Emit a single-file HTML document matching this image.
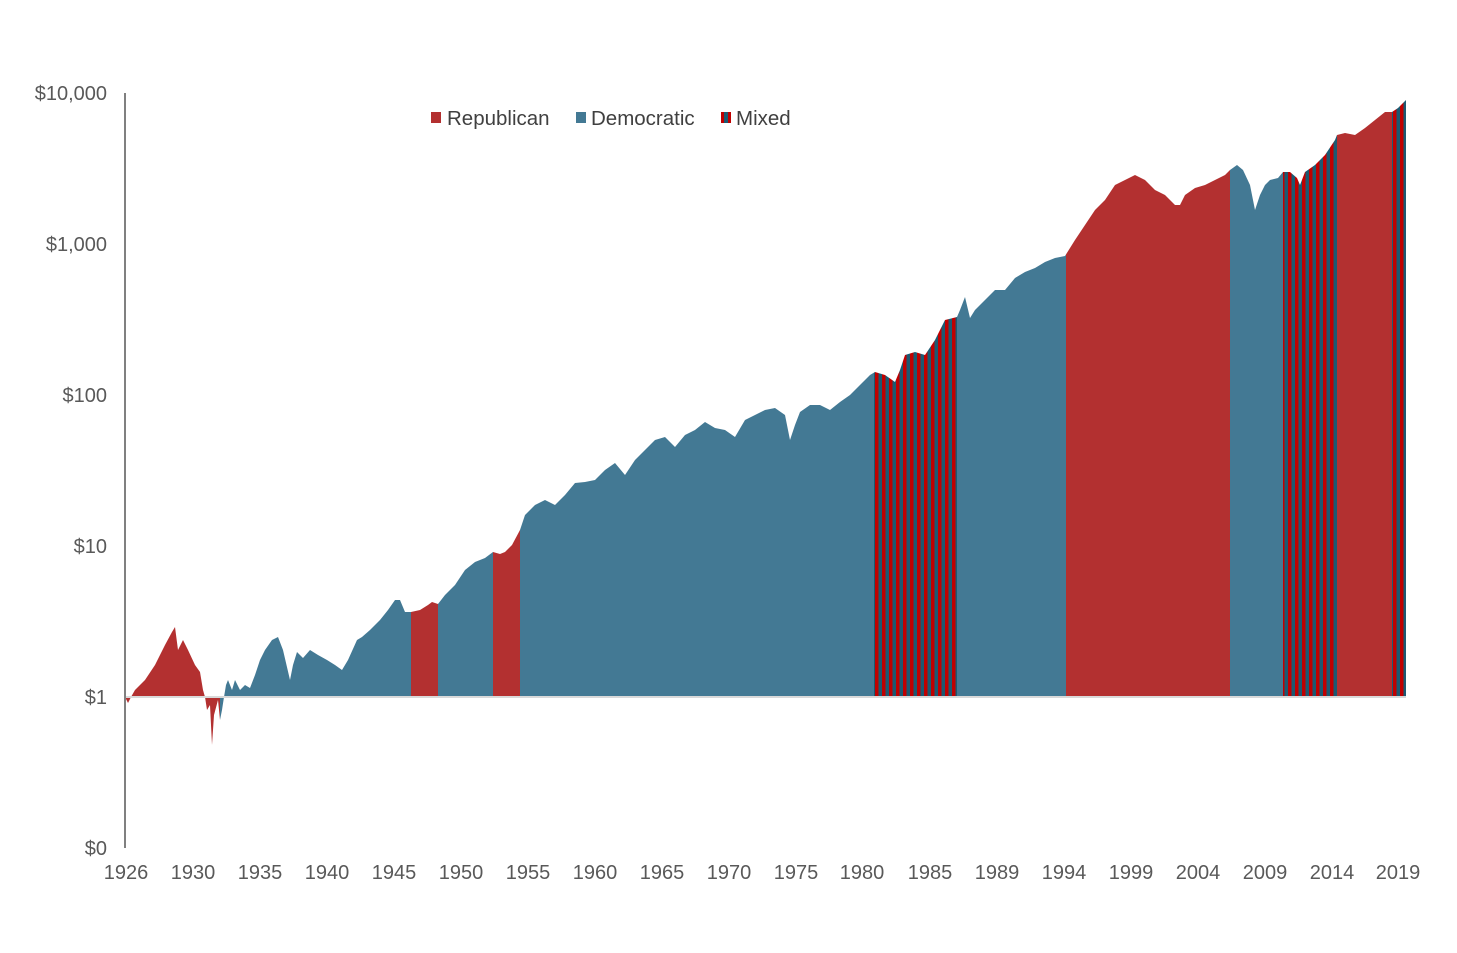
<!DOCTYPE html>
<html><head><meta charset="utf-8"><style>
html,body{margin:0;padding:0;background:#fff;}
svg text{font-family:"Liberation Sans",Arial,sans-serif;fill:#595959;}
</style></head><body>
<svg width="1457" height="948" viewBox="0 0 1457 948" xmlns="http://www.w3.org/2000/svg">
<defs>
<pattern id="mix" x="0" y="0" width="7" height="10" patternUnits="userSpaceOnUse">
<rect x="0" y="0" width="3.5" height="10" fill="#c00000"/>
<rect x="3.5" y="0" width="3.5" height="10" fill="#1b5a72"/>
</pattern>
<clipPath id="area">
<polygon points="125,697 128,703 131,697 135,690 145,680 155,665 165,645 172,632 175,627 178,650 183,640 188,650 195,665 200,672 203,690 205,697 207,710 210,705 212,745 214,715 218,700 220,720 222,710 224,697 226,685 228,680 232,690 235,680 240,690 245,685 250,688 255,675 260,660 265,650 272,640 278,637 283,650 290,680 293,665 297,652 303,658 310,650 318,655 327,660 335,665 342,670 348,660 357,640 362,637 370,630 380,620 388,610 395,600 400,600 405,612 411,612 420,610 428,605 432,602 438,604 445,595 455,585 465,570 475,562 485,558 493,552 500,554 505,552 512,545 520,530 525,515 535,505 545,500 555,505 565,495 575,483 585,482 595,480 605,470 615,463 625,475 635,460 645,450 655,440 665,437 675,447 685,435 695,430 705,422 715,428 725,430 735,437 745,420 755,415 765,410 775,408 785,415 790,440 795,425 800,412 810,405 820,405 830,410 840,402 850,395 860,385 870,375 875,372 885,375 895,382 900,370 905,355 915,352 925,355 935,340 945,320 957,317 960,310 965,297 970,318 975,310 985,300 995,290 1005,290 1015,278 1025,272 1035,268 1045,262 1055,258 1065,256 1075,240 1085,225 1095,210 1105,200 1115,185 1125,180 1135,175 1145,180 1155,190 1165,195 1175,205 1180,205 1185,195 1195,188 1205,185 1215,180 1225,175 1230,170 1237,165 1243,170 1250,185 1255,210 1260,195 1265,185 1270,180 1278,178 1283,172 1290,172 1297,178 1300,185 1305,172 1315,165 1325,155 1335,140 1337,135 1345,133 1355,135 1365,128 1375,120 1385,112 1392,112 1398,108 1406,100 1406,697"/>
</clipPath>
</defs>
<g clip-path="url(#area)">
<rect x="120" y="90" width="100" height="700" fill="#b33030"/>
<rect x="220" y="90" width="191" height="700" fill="#437994"/>
<rect x="411" y="90" width="27" height="700" fill="#b33030"/>
<rect x="438" y="90" width="55" height="700" fill="#437994"/>
<rect x="493" y="90" width="27" height="700" fill="#b33030"/>
<rect x="520" y="90" width="354" height="700" fill="#437994"/>
<rect x="874" y="90" width="83" height="700" fill="url(#mix)"/>
<rect x="957" y="90" width="109" height="700" fill="#437994"/>
<rect x="1066" y="90" width="164" height="700" fill="#b33030"/>
<rect x="1230" y="90" width="53" height="700" fill="#437994"/>
<rect x="1283" y="90" width="54" height="700" fill="url(#mix)"/>
<rect x="1337" y="90" width="55" height="700" fill="#b33030"/>
<rect x="1392" y="90" width="14" height="700" fill="url(#mix)"/>
</g>
<line x1="125" y1="697" x2="1406" y2="697" stroke="#d9d9d9" stroke-width="2"/>
<line x1="125" y1="93" x2="125" y2="848" stroke="#808080" stroke-width="2"/>
<g font-size="20" text-anchor="end">
<text x="107" y="100">$10,000</text>
<text x="107" y="251">$1,000</text>
<text x="107" y="402">$100</text>
<text x="107" y="553">$10</text>
<text x="107" y="704">$1</text>
<text x="107" y="855">$0</text>
</g>
<g font-size="20" text-anchor="middle">
<text x="126" y="879">1926</text><text x="193" y="879">1930</text><text x="260" y="879">1935</text>
<text x="327" y="879">1940</text><text x="394" y="879">1945</text><text x="461" y="879">1950</text>
<text x="528" y="879">1955</text><text x="595" y="879">1960</text><text x="662" y="879">1965</text>
<text x="729" y="879">1970</text><text x="796" y="879">1975</text><text x="862" y="879">1980</text>
<text x="930" y="879">1985</text><text x="997" y="879">1989</text><text x="1064" y="879">1994</text>
<text x="1131" y="879">1999</text><text x="1198" y="879">2004</text><text x="1265" y="879">2009</text>
<text x="1332" y="879">2014</text><text x="1398" y="879">2019</text>
</g>
<rect x="431" y="112" width="10" height="11" fill="#b33030"/>
<text x="447" y="125" font-size="20.5" style="fill:#404040">Republican</text>
<rect x="576" y="112" width="10" height="11" fill="#437994"/>
<text x="591" y="125" font-size="20.5" style="fill:#404040">Democratic</text>
<rect x="721" y="112" width="3" height="11" fill="#c00000"/>
<rect x="724" y="112" width="4" height="11" fill="#1b5a72"/>
<rect x="728" y="112" width="3" height="11" fill="#c00000"/>
<text x="736" y="125" font-size="20.5" style="fill:#404040">Mixed</text>
</svg>
</body></html>
